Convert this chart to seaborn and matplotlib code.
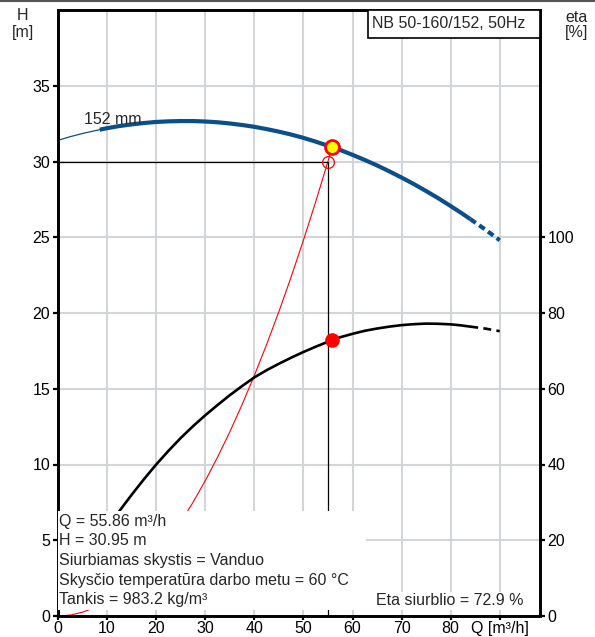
import matplotlib
matplotlib.use("Agg")
import matplotlib.pyplot as plt
from matplotlib.patches import Rectangle
from matplotlib.lines import Line2D
import pandas as pd
import seaborn as sns

# pump curve H(Q), impeller 152 mm
q_pump = [0, 2.5, 5, 7.5, 8.5, 10, 12.5, 15, 17.5, 20, 22.5, 25, 27.5, 30, 32.5, 35, 37.5,
          40, 42.5, 45, 47.5, 50, 52.5, 55.86, 57.5, 60, 62.5, 65, 67.5, 70, 72.5, 75,
          77.5, 80, 82.5, 84, 87, 90]
h_pump = [31.40, 31.64, 31.85, 32.03, 32.10, 32.20, 32.34, 32.45, 32.54, 32.61, 32.65,
          32.67, 32.67, 32.64, 32.59, 32.51, 32.41, 32.29, 32.14, 31.97, 31.78, 31.56,
          31.31, 30.95, 30.76, 30.44, 30.10, 29.74, 29.35, 28.94, 28.51, 28.05, 27.57,
          27.06, 26.53, 26.20, 25.52, 24.80]

# pump efficiency eta(Q), %
q_eta = [5, 7.5, 10, 12.5, 15, 17.5, 20, 22.5, 25, 27.5, 30, 32.5, 35, 37.5, 40, 42.5,
         45, 47.5, 50, 52.5, 55, 55.86, 57.5, 60, 62.5, 65, 67.5, 70, 72.5, 75, 77.5, 80,
         82, 84, 87, 90]
eta = [12.5, 18.0, 23.0, 27.7, 32.0, 36.1, 40.0, 43.6, 47.0, 50.1, 53.0, 55.7, 58.3,
       60.7, 63.0, 64.9, 66.6, 68.2, 69.7, 71.1, 72.4, 72.9, 73.6, 74.5, 75.3, 75.9, 76.4,
       76.8, 77.05, 77.2, 77.15, 77.0, 76.75, 76.4, 75.9, 75.2]

# system curve
q_sys = [0, 2.5, 5, 7.5, 10, 12.5, 15, 17.5, 20, 22.5, 25, 27.5, 30, 32.5, 35, 37.5, 40,
         42.5, 45, 47.5, 50, 52.5, 55, 55.86]
h_sys = [0, 0.06, 0.25, 0.56, 0.99, 1.55, 2.23, 3.04, 3.97, 5.02, 6.20, 7.50, 8.93, 10.48,
         12.15, 13.95, 15.87, 17.92, 20.09, 22.38, 24.80, 27.34, 30.01, 30.95]

# operating / requested point
q_op, h_op, eta_op = 55.86, 30.95, 72.9
q_req, h_req = 55.0, 30.0

q_ticks = [0, 10, 20, 30, 40, 50, 60, 70, 80, 90]
q_labels = ["0", "10", "20", "30", "40", "50", "60", "70", "80", "Q [m³/h]"]
h_ticks = [0, 5, 10, 15, 20, 25, 30, 35]
eta_ticks = [0, 20, 40, 60, 80, 100]

info_lines = [
    "Q = 55.86 m³/h",
    "H = 30.95 m",
    "Siurbiamas skystis = Vanduo",
    "Skysčio temperatūra darbo metu = 60 °C",
    "Tankis = 983.2 kg/m³",
]

sns.set_style("white")
plt.rcParams['font.family'] = ['Liberation Sans', 'DejaVu Sans']
FS = 11.5

pump = pd.DataFrame({"Q": q_pump, "H": h_pump})
eff = pd.DataFrame({"Q": q_eta, "eta": eta})
syscurve = pd.DataFrame({"Q": q_sys, "H": h_sys})

fig = plt.figure(figsize=(5.95, 6.37), dpi=100)
ax = fig.add_axes([58 / 595, 21 / 637, 482 / 595, 606 / 637])
ax.set_xlim(0, 98.2)
ax.set_ylim(0, 40)
ax.set_xticks(q_ticks)
ax.set_xticklabels(q_labels)
ax.set_yticks(h_ticks)
ax.set_xticks([55], minor=True)
ax.grid(True, color='#d3d6d9', lw=1.5, zorder=0)
ax.set_axisbelow(True)

blue = '#0b4f8a'
# pump curve: thin start, thick range, dashed extension
sns.lineplot(data=pump[pump.Q <= 8.5], x="Q", y="H", color=blue, lw=0.9, ax=ax)
sns.lineplot(data=pump[(pump.Q >= 8.5) & (pump.Q <= 84)], x="Q", y="H", color=blue,
             lw=3.0, ax=ax, solid_capstyle='butt')
sns.lineplot(data=pump[pump.Q >= 84], x="Q", y="H", color=blue, lw=3.0, ax=ax,
             linestyle=(0, (1.6, 1.0)))

# system curve
sns.lineplot(data=syscurve, x="Q", y="H", color='red', lw=0.8, ax=ax, sort=False)

# duty lines
ax.plot([0, q_req], [h_req, h_req], color='black', lw=0.9, zorder=3)
ax.plot([q_req, q_req], [0, h_req], color='black', lw=0.9, zorder=3)

ax.plot([q_req], [h_req], marker='o', ms=8.5, mfc='none', mec='red', mew=0.9, zorder=5)
ax.plot([q_op], [h_op], marker='o', ms=10, mfc='#ffff00', mec='red', mew=2, zorder=6)

ax.text(5.3, 32.75, "152 mm", fontsize=FS, va='center', ha='left', zorder=7)

# efficiency on the right axis
ax2 = ax.twinx()
ax2.set_ylim(0, 160)
ax2.set_yticks(eta_ticks)
sns.lineplot(data=eff[eff.Q <= 84], x="Q", y="eta", color='black', lw=1.9, ax=ax2)
sns.lineplot(data=eff[eff.Q >= 84], x="Q", y="eta", color='black', lw=1.9, ax=ax2,
             linestyle=(0, (3, 2)))
ax2.plot([q_op], [eta_op], marker='o', ms=9.5, color='red', zorder=6)
ax2.set_ylabel("")
ax.set_xlabel("")
ax.set_ylabel("")

for a in (ax, ax2):
    for s in a.spines.values():
        s.set_linewidth(1.9)
        s.set_color('black')
    a.tick_params(which='both', direction='out', length=3.5, width=1.6, labelsize=FS,
                  colors='black', pad=2)
ax.tick_params(axis='x', which='both', length=3, pad=0.5)
ax.tick_params(left=True, bottom=True)
ax2.tick_params(right=True)

# white info boxes on top of the curves
ax2.add_patch(Rectangle((0, 0.4), 62.8, 6.5, transform=ax.transData, facecolor='white',
                        edgecolor='none', zorder=8))
ax2.add_patch(Rectangle((63.4, 0.4), 31.6, 1.2, transform=ax.transData, facecolor='white',
                        edgecolor='none', zorder=8))
for i, line in enumerate(info_lines):
    ax2.text(0.25, 6.27 - i * 1.3, line, transform=ax.transData, fontsize=FS,
             va='center', ha='left', zorder=9)
ax2.text(64.7, 1.0, f"Eta siurblio = {eta_op} %", transform=ax.transData, fontsize=FS,
         va='center', ha='left', zorder=9)

# model title box
ax2.add_patch(Rectangle((0.643, 0.954), 0.357, 0.046, transform=ax.transAxes,
                        facecolor='white', edgecolor='black', lw=1.2, zorder=8))
ax2.text(0.652, 0.977, "NB 50-160/152, 50Hz", transform=ax.transAxes, fontsize=FS,
         va='center', ha='left', zorder=9)

# axis titles
fig.text(23 / 595, 1 - 16 / 637, "H", fontsize=FS, ha='center', va='center')
fig.text(23 / 595, 1 - 32 / 637, "[m]", fontsize=FS, ha='center', va='center')
fig.text(577 / 595, 1 - 18 / 637, "eta", fontsize=FS, ha='center', va='center')
fig.text(577 / 595, 1 - 32 / 637, "[%]", fontsize=FS, ha='center', va='center')

fig.add_artist(Line2D([0, 1], [0.999, 0.999], color='#555555', lw=1.5))

fig.savefig("out.png", dpi=100)
